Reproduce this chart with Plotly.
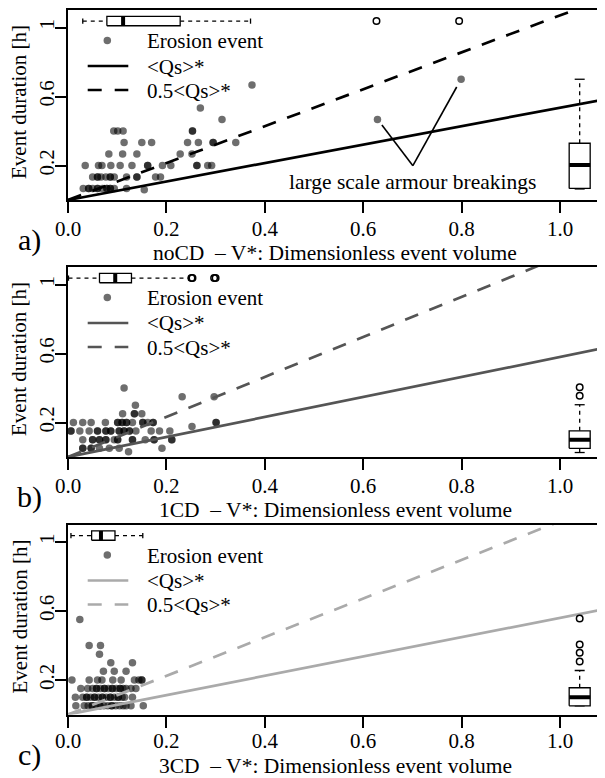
import plotly.graph_objects as go

# ---------------- data ----------------
panel_names = ["noCD", "1CD", "3CD"]
panel_tags = ["a)", "b)", "c)"]

# panel a: noCD erosion events (V*, duration [h])
a_x = [0.374, 0.269, 0.313,
       0.093, 0.101, 0.112, 0.253, 0.253,
       0.114, 0.150, 0.170, 0.243, 0.265, 0.295, 0.295, 0.341,
       0.083, 0.111, 0.140, 0.228, 0.252,
       0.035, 0.062, 0.069, 0.087, 0.106, 0.130, 0.162, 0.162, 0.192, 0.209, 0.262, 0.262, 0.284, 0.292,
       0.050, 0.060, 0.060, 0.067, 0.077, 0.086, 0.086, 0.094, 0.119, 0.140, 0.140, 0.178, 0.188,
       0.031, 0.042, 0.042, 0.050, 0.060, 0.060, 0.070, 0.079, 0.079, 0.086, 0.086, 0.094, 0.119, 0.155,
       0.629, 0.799]
a_y = [0.667, 0.533, 0.467,
       0.400, 0.400, 0.400, 0.400, 0.400,
       0.333, 0.333, 0.333, 0.333, 0.333, 0.333, 0.333, 0.333,
       0.267, 0.267, 0.267, 0.267, 0.267,
       0.200, 0.200, 0.200, 0.200, 0.200, 0.200, 0.200, 0.200, 0.200, 0.200, 0.200, 0.200, 0.200, 0.200,
       0.133, 0.133, 0.133, 0.133, 0.133, 0.133, 0.133, 0.133, 0.133, 0.133, 0.133, 0.133, 0.133,
       0.067, 0.067, 0.067, 0.067, 0.067, 0.067, 0.067, 0.067, 0.067, 0.067, 0.067, 0.067, 0.067, 0.060,
       0.467, 0.700]

# panel b: 1CD
b_x = [0.114,
       0.232, 0.297,
       0.137,
       0.111, 0.135, 0.135, 0.150,
       0.011, 0.030, 0.047, 0.076, 0.101, 0.101, 0.110, 0.110, 0.119, 0.119, 0.131, 0.152, 0.152, 0.162,
       0.173, 0.173, 0.301, 0.301,
       0.252,
       0.006, 0.006, 0.024, 0.043, 0.060, 0.060, 0.077, 0.077, 0.087, 0.087, 0.104, 0.104, 0.114, 0.114,
       0.125, 0.125, 0.138, 0.169, 0.186, 0.207,
       0.030, 0.050, 0.050, 0.064, 0.064, 0.077, 0.077, 0.094, 0.101, 0.101, 0.131, 0.131, 0.157, 0.175,
       0.175, 0.211, 0.211,
       0.030, 0.030, 0.047, 0.047, 0.064, 0.084, 0.104, 0.191,
       0.123]
b_y = [0.40,
       0.35, 0.35,
       0.30,
       0.25, 0.25, 0.25, 0.25,
       0.20, 0.20, 0.20, 0.20, 0.20, 0.20, 0.20, 0.20, 0.20, 0.20, 0.20, 0.20, 0.20, 0.20,
       0.20, 0.20, 0.20, 0.20,
       0.177,
       0.15, 0.15, 0.15, 0.15, 0.15, 0.15, 0.15, 0.15, 0.15, 0.15, 0.15, 0.15, 0.15, 0.15,
       0.15, 0.15, 0.15, 0.15, 0.15, 0.15,
       0.10, 0.10, 0.10, 0.10, 0.10, 0.10, 0.10, 0.10, 0.10, 0.10, 0.10, 0.10, 0.10, 0.10,
       0.10, 0.10, 0.10,
       0.05, 0.05, 0.05, 0.05, 0.05, 0.05, 0.05, 0.05,
       0.03]

# panel c: 3CD
c_x = [0.024,
       0.043, 0.066,
       0.064,
       0.087, 0.131,
       0.072, 0.094, 0.118,
       0.008, 0.043, 0.060, 0.069, 0.091, 0.108, 0.135, 0.144, 0.150, 0.150,
       0.026, 0.040, 0.050, 0.058, 0.058, 0.066, 0.074, 0.074, 0.082, 0.090, 0.090, 0.098, 0.106, 0.106,
       0.112, 0.118, 0.128, 0.138,
       0.015, 0.030, 0.038, 0.038, 0.046, 0.054, 0.054, 0.062, 0.070, 0.070, 0.078, 0.086, 0.086, 0.094,
       0.102, 0.102, 0.110, 0.115, 0.131,
       0.016, 0.033, 0.041, 0.049, 0.049, 0.057, 0.065, 0.065, 0.073, 0.081, 0.089, 0.089, 0.097, 0.105,
       0.112, 0.118, 0.128, 0.153]
c_y = [0.55,
       0.40, 0.40,
       0.35,
       0.30, 0.30,
       0.25, 0.25, 0.25,
       0.20, 0.20, 0.20, 0.20, 0.20, 0.20, 0.20, 0.20, 0.20, 0.20,
       0.15, 0.15, 0.15, 0.15, 0.15, 0.15, 0.15, 0.15, 0.15, 0.15, 0.15, 0.15, 0.15, 0.15,
       0.15, 0.15, 0.15, 0.15,
       0.10, 0.10, 0.10, 0.10, 0.10, 0.10, 0.10, 0.10, 0.10, 0.10, 0.10, 0.10, 0.10, 0.10,
       0.10, 0.10, 0.10, 0.10, 0.10,
       0.05, 0.05, 0.05, 0.05, 0.05, 0.05, 0.05, 0.05, 0.05, 0.05, 0.05, 0.05, 0.05, 0.05,
       0.05, 0.05, 0.05, 0.05]

# <Qs>* reference lines: duration = V* / <Qs>*  (slope)
qs_slope = [0.535, 0.58, 0.56]
line_colors = ["#000000", "#555555", "#aaaaaa"]

# boxplot statistics: [lower whisker, Q1, median, Q3, upper whisker]
hbox_stats = [[0.030, 0.079, 0.112, 0.228, 0.371],
              [0.001, 0.064, 0.096, 0.129, 0.245],
              [0.006, 0.048, 0.067, 0.0955, 0.152]]
hbox_out = [[0.627, 0.795], [0.251, 0.253, 0.297, 0.300], []]
vbox_stats = [[0.064, 0.067, 0.203, 0.329, 0.700],
              [0.026, 0.050, 0.100, 0.152, 0.303],
              [0.050, 0.050, 0.100, 0.155, 0.255]]
vbox_out = [[], [0.355, 0.405], [0.307, 0.358, 0.406, 0.557]]

x_ticks = [0.0, 0.2, 0.4, 0.6, 0.8, 1.0]
x_ticktext = ["0.0", "0.2", "0.4", "0.6", "0.8", "1.0"]
y_ticks = [0.2, 0.6, 1.0]
y_ticktext = ["0.2", "0.6", "1"]

annot_text = "large scale armour breakings"
annot_pos = (0.70, 0.105)
annot_vertex = (0.701, 0.199)
annot_targets = [(0.638, 0.435), (0.790, 0.655)]

# ---------------- layout geometry ----------------
W, H = 605, 778
OFF = 8            # default page margin of the browser: figure starts at (8, 8)
LEFT = 68          # page px of x = 0
PLOT_H = 190
TOPS = [10, 267, 524.5]   # page px of each panel's top border
TITLE_OFF = [53, 53, 51]  # px below each panel's x axis for its title
XLAB_STANDOFF = [-2, -2, -5]
XSCALE = 492.0    # px per x unit
YSCALE = 172.5    # px per y unit
XMAX = (W + OFF - LEFT) / XSCALE
YMAX = PLOT_H / YSCALE
FONT = "Liberation Serif"
FS = 21

def pxx(x):
    return (x - OFF) / W

def pxy(y):
    return 1 - (y - OFF) / H

xs_all = [a_x, b_x, c_x]
ys_all = [a_y, b_y, c_y]

fig = go.Figure()
shapes = []
annotations = []

for i in range(3):
    xa = "x" if i == 0 else f"x{i+1}"
    ya = "y" if i == 0 else f"y{i+1}"
    col = line_colors[i]
    # points
    fig.add_trace(go.Scatter(x=xs_all[i], y=ys_all[i], mode="markers", xaxis=xa, yaxis=ya,
                             marker=dict(size=7.5, color="rgba(0,0,0,0.57)", line=dict(width=0)),
                             showlegend=False, name="Erosion event"))
    # reference lines
    lx = [0, XMAX]
    fig.add_trace(go.Scatter(x=lx, y=[qs_slope[i] * v for v in lx], mode="lines", xaxis=xa, yaxis=ya,
                             line=dict(color=col, width=2.7), showlegend=False, name="<Qs>*"))
    fig.add_trace(go.Scatter(x=lx, y=[2 * qs_slope[i] * v for v in lx], mode="lines", xaxis=xa, yaxis=ya,
                             line=dict(color=col, width=2.7, dash="14px,12px"), showlegend=False,
                             name="0.5<Qs>*"))

    # horizontal boxplot (V* distribution) at the top
    lo, q1, md, q3, hi = hbox_stats[i]
    yc = 1.037
    hh = 4.65 / YSCALE
    ch = 2.6 / YSCALE
    fig.add_trace(go.Scatter(x=[lo, q1, None, q3, hi], y=[yc, yc, None, yc, yc], mode="lines",
                             xaxis=xa, yaxis=ya, line=dict(color="black", width=1.3, dash="4px,4px"),
                             showlegend=False, hoverinfo="skip"))
    fig.add_trace(go.Scatter(x=[lo, lo, None, hi, hi], y=[yc - ch, yc + ch, None, yc - ch, yc + ch],
                             mode="lines", xaxis=xa, yaxis=ya, line=dict(color="black", width=1.3),
                             showlegend=False, hoverinfo="skip"))
    fig.add_trace(go.Scatter(x=[q1, q3, q3, q1, q1], y=[yc - hh, yc - hh, yc + hh, yc + hh, yc - hh],
                             mode="lines", fill="toself", fillcolor="white", xaxis=xa, yaxis=ya,
                             line=dict(color="black", width=1.3), showlegend=False, hoverinfo="skip"))
    fig.add_trace(go.Scatter(x=[md, md], y=[yc - hh, yc + hh], mode="lines", xaxis=xa, yaxis=ya,
                             line=dict(color="black", width=4), showlegend=False, hoverinfo="skip"))
    if hbox_out[i]:
        fig.add_trace(go.Scatter(x=hbox_out[i], y=[yc] * len(hbox_out[i]), mode="markers",
                                 xaxis=xa, yaxis=ya,
                                 marker=dict(symbol="circle-open", size=6.5, color="black",
                                             line=dict(width=1.5)),
                                 showlegend=False))

    # vertical boxplot (duration distribution) at the right
    lo, q1, md, q3, hi = vbox_stats[i]
    xc = 1.04
    hw = 10.5 / XSCALE
    cw = 5.0 / XSCALE
    fig.add_trace(go.Scatter(y=[lo, q1, None, q3, hi], x=[xc, xc, None, xc, xc], mode="lines",
                             xaxis=xa, yaxis=ya, line=dict(color="black", width=1.3, dash="4px,4px"),
                             showlegend=False, hoverinfo="skip"))
    fig.add_trace(go.Scatter(y=[lo, lo, None, hi, hi], x=[xc - cw, xc + cw, None, xc - cw, xc + cw],
                             mode="lines", xaxis=xa, yaxis=ya, line=dict(color="black", width=1.3),
                             showlegend=False, hoverinfo="skip"))
    fig.add_trace(go.Scatter(y=[q1, q1, q3, q3, q1], x=[xc - hw, xc + hw, xc + hw, xc - hw, xc - hw],
                             mode="lines", fill="toself", fillcolor="white", xaxis=xa, yaxis=ya,
                             line=dict(color="black", width=1.3), showlegend=False, hoverinfo="skip"))
    fig.add_trace(go.Scatter(y=[md, md], x=[xc - hw, xc + hw], mode="lines", xaxis=xa, yaxis=ya,
                             line=dict(color="black", width=4), showlegend=False, hoverinfo="skip"))
    if vbox_out[i]:
        fig.add_trace(go.Scatter(y=vbox_out[i], x=[xc] * len(vbox_out[i]), mode="markers",
                                 xaxis=xa, yaxis=ya,
                                 marker=dict(symbol="circle-open", size=6.5, color="black",
                                             line=dict(width=1.5)),
                                 showlegend=False))

    # axes
    top = TOPS[i]
    bot = top + PLOT_H
    xkey = "xaxis" if i == 0 else f"xaxis{i+1}"
    ykey = "yaxis" if i == 0 else f"yaxis{i+1}"
    fig.layout[xkey] = dict(domain=[pxx(LEFT), 1], range=[0, XMAX], anchor=ya, automargin=False,
                            tickvals=x_ticks, ticktext=x_ticktext, ticks="outside", ticklen=11,
                            tickwidth=2, tickcolor="black", showline=True, linewidth=2,
                            linecolor="black", mirror=True, showgrid=False, zeroline=False,
                            ticklabelstandoff=XLAB_STANDOFF[i],
                            tickfont=dict(family=FONT, size=FS, color="black"), fixedrange=True)
    fig.layout[ykey] = dict(domain=[pxy(bot), pxy(top)], range=[0, YMAX], anchor=xa, automargin=False,
                            tickvals=y_ticks, ticktext=y_ticktext, ticks="outside", ticklen=11,
                            tickwidth=2, tickcolor="black", showline=True, linewidth=2,
                            linecolor="black", mirror=False, showgrid=False, zeroline=False,
                            tickangle=-90, ticklabelstandoff=-7,
                            tickfont=dict(family=FONT, size=FS, color="black"), fixedrange=True)

    # manual legend (R-style)
    ly = [top + 30.5, top + 56, top + 80]
    shapes.append(dict(type="circle", xref="paper", yref="paper", xsizemode="pixel",
                       ysizemode="pixel", xanchor=pxx(107.3), yanchor=pxy(ly[0]),
                       x0=-3.75, x1=3.75, y0=-3.75, y1=3.75,
                       fillcolor="rgba(0,0,0,0.57)", line=dict(width=0)))
    shapes.append(dict(type="line", xref="paper", yref="paper", x0=pxx(87.7), x1=pxx(128.3),
                       y0=pxy(ly[1]), y1=pxy(ly[1]), line=dict(color=col, width=2.7)))
    shapes.append(dict(type="line", xref="paper", yref="paper", x0=pxx(87.7), x1=pxx(128.3),
                       y0=pxy(ly[2]), y1=pxy(ly[2]),
                       line=dict(color=col, width=2.7, dash="14px,13px")))
    for txt, yy in zip(["Erosion event", "&lt;Qs&gt;*", "0.5&lt;Qs&gt;*"], ly):
        annotations.append(dict(text=txt, xref="paper", yref="paper", x=pxx(145), y=pxy(yy + 0.5),
                                xanchor="left", yanchor="middle", showarrow=False,
                                font=dict(family=FONT, size=FS, color="black")))

    # axis titles and panel tag
    annotations.append(dict(text=f"{panel_names[i]}  \u2013 V*: Dimensionless event volume",
                            xref="paper", yref="paper", x=pxx(335), y=pxy(bot + TITLE_OFF[i]),
                            xanchor="center", yanchor="middle", showarrow=False,
                            font=dict(family=FONT, size=21.5, color="black")))
    annotations.append(dict(text="Event duration [h]", xref="paper", yref="paper",
                            x=pxx(19), y=pxy(top + 92), xanchor="center", yanchor="middle",
                            textangle=-90, showarrow=False,
                            font=dict(family=FONT, size=FS, color="black")))
    annotations.append(dict(text=panel_tags[i], xref="paper", yref="paper", x=pxx(29),
                            y=pxy(bot + 40), xanchor="center", yanchor="middle", showarrow=False,
                            font=dict(family=FONT, size=30, color="black")))

# annotation for armour breakings (panel a)
annotations.append(dict(text=annot_text, xref="x", yref="y", x=annot_pos[0], y=annot_pos[1],
                        xanchor="center", yanchor="middle", showarrow=False,
                        font=dict(family=FONT, size=21.5, color="black")))
for tx, ty in annot_targets:
    shapes.append(dict(type="line", xref="x", yref="y", x0=annot_vertex[0], y0=annot_vertex[1],
                       x1=tx, y1=ty, line=dict(color="black", width=1.6)))

fig.update_layout(template="none", width=W, height=H, margin=dict(l=0, r=0, t=0, b=0, pad=0),
                  paper_bgcolor="white", plot_bgcolor="white", showlegend=False,
                  shapes=shapes, annotations=annotations,
                  font=dict(family=FONT, size=FS, color="black"))

fig.write_html("out.html")
